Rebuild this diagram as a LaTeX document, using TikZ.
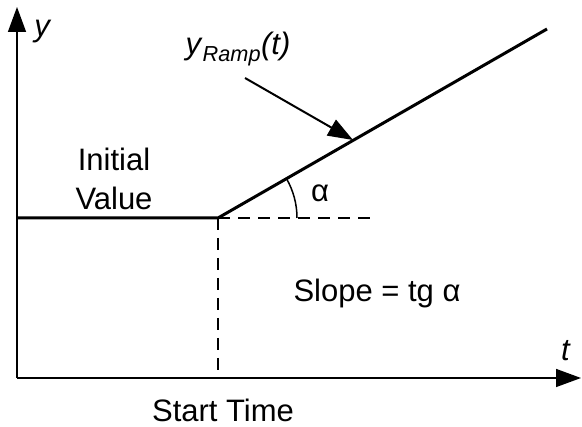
\documentclass[tikz,border=0pt]{standalone}
\usepackage{fontspec}
\setmainfont{Liberation Sans}
\usetikzlibrary{positioning,arrows.meta}

\begin{document}
\begin{tikzpicture}[x=1pt, y=1pt,
axis/.style={line width=1.5pt, -{Triangle[length=25pt, width=18pt]}},
signal/.style={line width=3pt},
helper/.style={line width=1.3pt, dash pattern=on 12pt off 8pt},
pointer/.style={line width=2pt, -{Triangle[length=25pt, width=18pt]}},
lbl/.style={font=\fontsize{31}{39}\selectfont, align=center, inner sep=0pt}]
\useasboundingbox (0,0) rectangle (582,427);
% axes
\coordinate (origin) at (17,49);
\coordinate (ytop) at (17,420);
\coordinate (xend) at (581,49);
\draw[axis] (origin) -- (ytop);
\draw[axis] (origin) -- (xend);
\node[lbl] (ylabel) at (43,395) {\textit{y}};
\node[lbl] (tlabel) at (566,76) {\textit{t}};
% signal
\coordinate (init) at (17,209);
\coordinate (start) at (218,209);
\coordinate (rampend) at (547,398);
\coordinate (dashend) at (372,209);
\coordinate (startbase) at (218,49);
\draw[signal] (init) -- (start) -- (rampend);
\draw[helper] (start) -- (dashend);
\draw[helper] (start) -- (startbase);
\draw[line width=1.5pt] ([shift={(0:79)}]start) arc (0:29.9:79);
% labels
\node[lbl] (alpha) at (320,234) {α};
\node[lbl] (initval) at (114,248) {Initial\\Value};
\node[lbl] (slope) at (377,134) {Slope = tg α};
\node[lbl] (starttime) at (223,17) {Start Time};
\node[lbl] (ramplabel) at (238,378) {\textit{y}\textsubscript{\textit{Ramp}}\textit{(t)}};
\coordinate (pointerfoot) at (245,349);
\coordinate (pointertip) at (353,287);
\draw[pointer] (pointerfoot) -- (pointertip);
\end{tikzpicture}
\end{document}
